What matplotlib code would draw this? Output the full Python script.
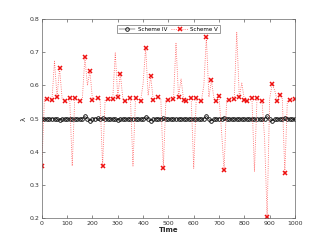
import numpy as np
import matplotlib
matplotlib.use('Agg')
import matplotlib.pyplot as plt

# ------------------------------- DATA -------------------------------
time = np.arange(0, 1001, 10)

# Scheme V (dotted line through every sample)
schemeV = [0.357, 0.558, 0.560, 0.556, 0.557, 0.673, 0.565, 0.652, 0.560, 0.553,
           0.558, 0.562, 0.357, 0.562, 0.556, 0.553, 0.560, 0.686, 0.600, 0.643,
           0.557, 0.558, 0.562, 0.560, 0.356, 0.558, 0.558, 0.557, 0.558, 0.698,
           0.565, 0.635, 0.560, 0.553, 0.558, 0.562, 0.357, 0.562, 0.558, 0.553,
           0.605, 0.714, 0.570, 0.627, 0.557, 0.560, 0.565, 0.560, 0.352, 0.555,
           0.557, 0.558, 0.558, 0.727, 0.565, 0.620, 0.557, 0.553, 0.558, 0.562,
           0.350, 0.562, 0.558, 0.553, 0.600, 0.745, 0.565, 0.615, 0.560, 0.553,
           0.567, 0.460, 0.346, 0.556, 0.556, 0.556, 0.558, 0.760, 0.565, 0.607,
           0.557, 0.553, 0.566, 0.563, 0.340, 0.562, 0.558, 0.553, 0.440, 0.204,
           0.560, 0.604, 0.585, 0.553, 0.570, 0.560, 0.337, 0.556, 0.556, 0.556,
           0.558]

# times where Scheme V markers are shown
markTimes = [0, 20, 40, 60, 70, 90, 110, 130, 150, 170, 190, 200, 220, 240, 260,
             280, 300, 310, 330, 350, 370, 390, 410, 430, 440, 460, 480, 500, 520,
             540, 560, 570, 590, 610, 630, 650, 670, 690, 700, 720, 740, 760, 780,
             800, 810, 830, 850, 870, 890, 910, 930, 940, 960, 980, 1000]

# Scheme IV
schemeIV = [0.500, 0.499, 0.499, 0.499, 0.500, 0.499, 0.499, 0.495, 0.499, 0.499,
            0.499, 0.499, 0.499, 0.499, 0.499, 0.500, 0.499, 0.507, 0.499, 0.494,
            0.499, 0.500, 0.501, 0.500, 0.502, 0.500, 0.499, 0.499, 0.499, 0.499,
            0.496, 0.499, 0.499, 0.499, 0.499, 0.499, 0.499, 0.499, 0.499, 0.499,
            0.499, 0.505, 0.500, 0.493, 0.499, 0.500, 0.500, 0.500, 0.501, 0.499,
            0.499, 0.499, 0.499, 0.499, 0.499, 0.500, 0.499, 0.499, 0.499, 0.499,
            0.499, 0.499, 0.499, 0.499, 0.499, 0.508, 0.499, 0.493, 0.499, 0.499,
            0.500, 0.499, 0.503, 0.499, 0.499, 0.499, 0.499, 0.499, 0.499, 0.499,
            0.499, 0.499, 0.499, 0.499, 0.499, 0.499, 0.499, 0.499, 0.499, 0.507,
            0.499, 0.493, 0.499, 0.499, 0.500, 0.499, 0.503, 0.499, 0.499, 0.499,
            0.499]

# ------------------------------- PLOT -------------------------------
def plotSchemes():
    plt.rcParams['font.family'] = 'DejaVu Sans'
    fig = plt.figure(figsize=(3.27, 2.45), dpi=100)
    ax = fig.add_axes([0.128, 0.110, 0.774, 0.812])

    markIdx = [list(time).index(t) for t in markTimes]

    ax.plot(time, schemeIV, '-', color='k', lw=0.3, marker='o', ms=2.6,
            mfc='none', mew=0.6, label='Scheme IV')
    ax.plot(time, schemeV, ':', color='#ff5a5a', lw=0.6, marker='x', ms=2.4,
            mew=1.1, mec='#ee1111', markevery=markIdx, label='Scheme V')

    ax.set_xlim(0, 1000)
    ax.set_ylim(0.2, 0.8)
    ax.set_xticks(np.arange(0, 1001, 100))
    ax.set_yticks(np.arange(0.2, 0.81, 0.1))
    ax.set_yticklabels(['%.1f' % v for v in np.arange(0.2, 0.81, 0.1)])
    ax.tick_params(direction='in', length=2, width=0.4, labelsize=4.5,
                   colors='0.2', pad=2, top=True, right=True)
    for s in ax.spines.values():
        s.set_linewidth(0.5)
        s.set_color('0.4')

    ax.set_xlabel('Time', fontsize=5, fontweight='bold', labelpad=1, color='0.15')
    ax.set_ylabel('λ', fontsize=5, labelpad=2, color='0.15')

    leg = ax.legend(loc='upper center', ncol=2, fontsize=4, frameon=True,
                    fancybox=False, edgecolor='0.3', handlelength=3.0,
                    borderpad=0.3, columnspacing=0.8, handletextpad=0.4,
                    bbox_to_anchor=(0.5, 0.985))
    leg.get_frame().set_linewidth(0.5)

    fig.savefig('out.png', dpi=100)

if __name__ == '__main__':
    plotSchemes()
